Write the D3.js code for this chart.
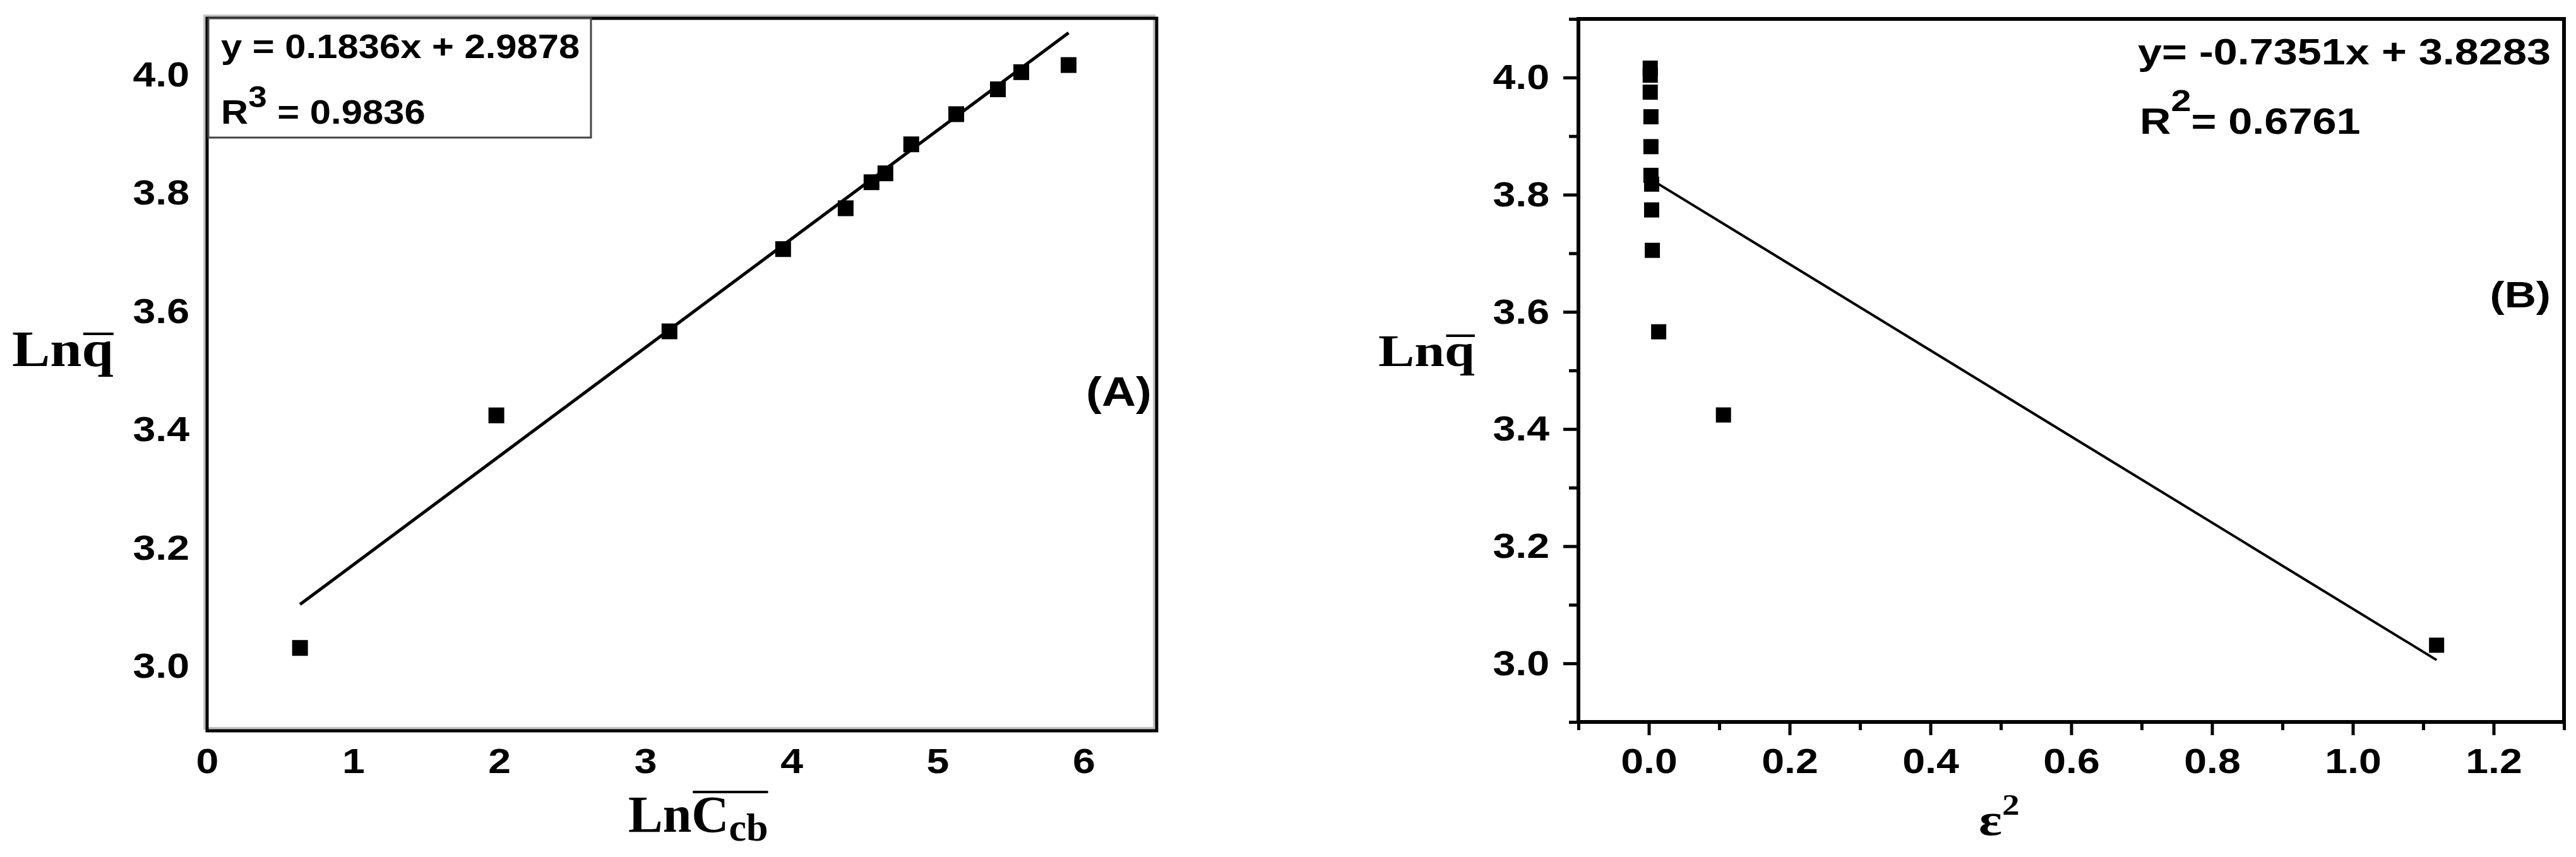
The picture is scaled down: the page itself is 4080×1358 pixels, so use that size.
<!DOCTYPE html>
<html>
<head>
<meta charset="utf-8">
<script src="https://cdn.jsdelivr.net/npm/d3@7"></script>
<style>
  body { margin: 0; background: #fff; }
  text { font-family: "Liberation Sans", Arial, sans-serif; font-weight: bold; fill: #000; }
  .serif { font-family: "Liberation Serif", "Times New Roman", serif; }
</style>
</head>
<body>
<svg id="chart" width="4080" height="1358"></svg>
<script>
// ln q (same 12 samples in both panels)
var lnQ = [3.031, 3.424, 3.566, 3.705, 3.774, 3.818, 3.833, 3.882, 3.933, 3.975, 4.004, 4.016];
// panel A: ln C_cb
var lnCcb = [0.636, 1.98, 3.165, 3.943, 4.371, 4.548, 4.643, 4.82, 5.128, 5.413, 5.573, 5.897];
// panel B: epsilon squared
var epsSq = [1.119, 0.106, 0.014, 0.005, 0.004, 0.004, 0.003, 0.003, 0.003, 0.002, 0.002, 0.002];

var xTicksA = [0, 1, 2, 3, 4, 5, 6];
var yTicksA = [3.0, 3.2, 3.4, 3.6, 3.8, 4.0];
var xTicksB = [0.0, 0.2, 0.4, 0.6, 0.8, 1.0, 1.2];
var xMinorB = [-0.1, 0.1, 0.3, 0.5, 0.7, 0.9, 1.1, 1.3];
var yTicksB = [3.0, 3.2, 3.4, 3.6, 3.8, 4.0];
var yMinorB = [2.9, 3.1, 3.3, 3.5, 3.7, 3.9, 4.1];

var fitA = { slope: 0.1836, intercept: 2.9878 };
var fitB = { slope: -0.7351, intercept: 3.8283 };

var svg = d3.select("#chart");

// text helper: the source figure is a bit wider than tall, so stretch x
function label(g, x, y, str, size, sx, anchor) {
  return g.append("text")
    .attr("transform", "translate(" + x + "," + y + ") scale(" + sx + ",1)")
    .attr("font-size", size)
    .attr("text-anchor", anchor || "start")
    .text(str);
}

function stretchAxisText(axisG, size, sx) {
  axisG.select(".domain").remove();
  axisG.selectAll("text").each(function () {
    var t = d3.select(this);
    var x = +t.attr("x") || 0;
    t.attr("x", x / sx)
      .attr("transform", "scale(" + sx + ",1)")
      .attr("font-size", size)
      .attr("font-family", null)
      .attr("fill", "#000");
  });
}

/* ---------------- panel A ---------------- */
var xA = d3.scaleLinear().domain([0, 6.5]).range([328, 1832]);
var yA = d3.scaleLinear().domain([2.891, 4.095]).range([1158, 29]);

var gA = svg.append("g");

// frame with faint shadow
gA.append("rect")
  .attr("x", xA(0) - 4).attr("y", yA(4.095) - 4)
  .attr("width", xA(6.5) - xA(0)).attr("height", yA(2.891) - yA(4.095))
  .attr("fill", "none").attr("stroke", "#c4c4c4").attr("stroke-width", 4);
gA.append("rect")
  .attr("x", xA(0)).attr("y", yA(4.095))
  .attr("width", xA(6.5) - xA(0)).attr("height", yA(2.891) - yA(4.095))
  .attr("fill", "none").attr("stroke", "#000").attr("stroke-width", 5);

var axA = gA.append("g")
  .attr("transform", "translate(0," + yA(2.891) + ")")
  .call(d3.axisBottom(xA).tickValues(xTicksA).tickSize(0).tickPadding(27).tickFormat(d3.format("d")));
stretchAxisText(axA, 56, 1.15);

var ayA = gA.append("g")
  .attr("transform", "translate(" + xA(0) + ",0)")
  .call(d3.axisLeft(yA).tickValues(yTicksA).tickSize(0).tickPadding(28).tickFormat(d3.format(".1f")));
stretchAxisText(ayA, 56, 1.15);

// fit line over the data range
var lineA = d3.line().x(function (d) { return xA(d); })
  .y(function (d) { return yA(fitA.slope * d + fitA.intercept); });
gA.append("path")
  .datum(d3.extent(lnCcb))
  .attr("d", lineA)
  .attr("fill", "none").attr("stroke", "#000").attr("stroke-width", 5);

gA.selectAll(".pt")
  .data(lnCcb)
  .enter()
  .append("rect")
  .attr("class", "pt")
  .attr("x", function (d) { return xA(d) - 12.5; })
  .attr("y", function (d, i) { return yA(lnQ[i]) - 12.5; })
  .attr("width", 25).attr("height", 25)
  .attr("fill", "#000");

// equation box
gA.append("rect")
  .attr("x", 330).attr("y", 29).attr("width", 606).attr("height", 189)
  .attr("fill", "#fff").attr("stroke", "#444").attr("stroke-width", 3);
label(gA, 350, 92, "y = 0.1836x + 2.9878", 54, 1.107);
var r3 = label(gA, 350, 196, "R", 54, 1.107);
r3.append("tspan").attr("dy", -26).attr("font-size", 48).text("3");
r3.append("tspan").attr("dy", 26).text(" = 0.9836");

label(gA, 1824, 643, "(A)", 64, 1.17, "end").attr("fill", "#0a0a14");

// y title: Ln q-bar
var tyA = gA.append("g").attr("transform", "translate(19,580) scale(1.13,1)");
var tyAt = tyA.append("text").attr("class", "serif").attr("font-size", 80).text("Lnq");
var q0 = tyAt.node().getStartPositionOfChar(2).x, q1 = tyAt.node().getEndPositionOfChar(2).x;
tyA.append("line").attr("x1", q0 + 2).attr("x2", q1).attr("y1", -51).attr("y2", -51)
  .attr("stroke", "#000").attr("stroke-width", 4);

// x title: Ln C-bar_cb
var txA = gA.append("g").attr("transform", "translate(995,1318)");
var txAt = txA.append("text").attr("class", "serif").attr("font-size", 82).text("LnC");
txAt.append("tspan").attr("dy", 14).attr("font-size", 62).text("cb");
var c0 = txAt.node().getStartPositionOfChar(2).x, c1 = txAt.node().getEndPositionOfChar(4).x;
txA.append("line").attr("x1", c0 + 2).attr("x2", c1).attr("y1", -63).attr("y2", -63)
  .attr("stroke", "#000").attr("stroke-width", 4);

/* ---------------- panel B ---------------- */
var xB = d3.scaleLinear().domain([-0.1, 1.3]).range([2500, 4061]);
var yB = d3.scaleLinear().domain([2.9, 4.1]).range([1144, 30]);

var gB = svg.append("g");

var axBminor = gB.append("g")
  .attr("transform", "translate(0," + yB(2.9) + ")")
  .call(d3.axisBottom(xB).tickValues(xMinorB).tickSizeInner(13).tickSizeOuter(0).tickFormat(""));
axBminor.select(".domain").remove();
var axB = gB.append("g")
  .attr("transform", "translate(0," + yB(2.9) + ")")
  .call(d3.axisBottom(xB).tickValues(xTicksB).tickSizeInner(21).tickSizeOuter(0).tickPadding(20).tickFormat(d3.format(".1f")));
stretchAxisText(axB, 56, 1.15);

var ayBminor = gB.append("g")
  .attr("transform", "translate(" + xB(-0.1) + ",0)")
  .call(d3.axisLeft(yB).tickValues(yMinorB).tickSizeInner(15).tickSizeOuter(0).tickFormat(""));
ayBminor.select(".domain").remove();
var ayB = gB.append("g")
  .attr("transform", "translate(" + xB(-0.1) + ",0)")
  .call(d3.axisLeft(yB).tickValues(yTicksB).tickSizeInner(24).tickSizeOuter(0).tickPadding(22).tickFormat(d3.format(".1f")));
stretchAxisText(ayB, 56, 1.15);

gB.selectAll(".tick line").attr("stroke", "#000").attr("stroke-width", 5);

gB.append("rect")
  .attr("x", xB(-0.1)).attr("y", yB(4.1))
  .attr("width", xB(1.3) - xB(-0.1)).attr("height", yB(2.9) - yB(4.1))
  .attr("fill", "none").attr("stroke", "#000").attr("stroke-width", 6);

var lineB = d3.line().x(function (d) { return xB(d); })
  .y(function (d) { return yB(fitB.slope * d + fitB.intercept); });
gB.append("path")
  .datum(d3.extent(epsSq))
  .attr("d", lineB)
  .attr("fill", "none").attr("stroke", "#000").attr("stroke-width", 4);

gB.selectAll(".pt")
  .data(epsSq)
  .enter()
  .append("rect")
  .attr("class", "pt")
  .attr("x", function (d) { return xB(d) - 12; })
  .attr("y", function (d, i) { return yB(lnQ[i]) - 12; })
  .attr("width", 24).attr("height", 24)
  .attr("fill", "#000");

label(gB, 3386, 102, "y= -0.7351x + 3.8283", 57, 1.2);
var r2 = label(gB, 3389, 212, "R", 57, 1.2);
r2.append("tspan").attr("dy", -36).attr("font-size", 48).text("2");
r2.append("tspan").attr("dy", 36).text("= 0.6761");

label(gB, 4040, 487, "(B)", 57, 1.22, "end");

var tyB = gB.append("g").attr("transform", "translate(2183,580) scale(1.21,1)");
var tyBt = tyB.append("text").attr("class", "serif").attr("font-size", 71).text("Lnq");
var b0 = tyBt.node().getStartPositionOfChar(2).x, b1 = tyBt.node().getEndPositionOfChar(2).x;
tyB.append("line").attr("x1", b0 + 2).attr("x2", b1).attr("y1", -48).attr("y2", -48)
  .attr("stroke", "#000").attr("stroke-width", 4);

var txB = gB.append("g").attr("transform", "translate(3134,1323) scale(1.2,1)");
var txBt = txB.append("text").attr("class", "serif").attr("font-size", 72).text("ε");
txBt.append("tspan").attr("dy", -32).attr("font-size", 46).text("2");
</script>
</body>
</html>
